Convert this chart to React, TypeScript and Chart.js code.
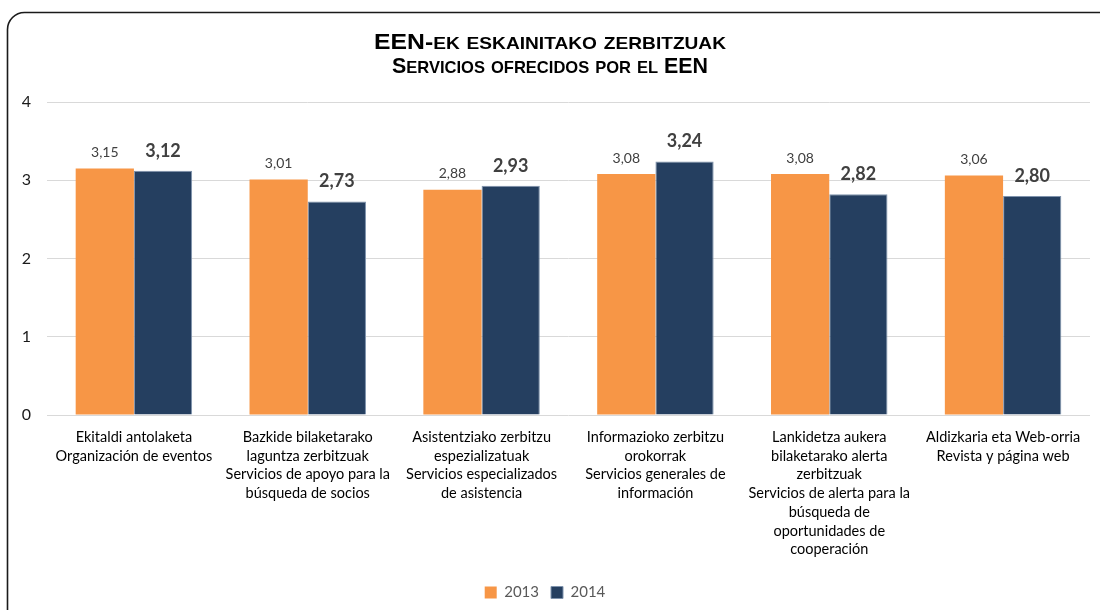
import React, { useEffect, useRef } from "react";
import { Chart, registerables } from "chart.js";

Chart.register(...registerables);

const TITLE_LINES = ["EEN-ek eskainitako zerbitzuak", "Servicios ofrecidos por el EEN"];

const CATEGORIES: string[][] = [
  ["Ekitaldi antolaketa", "Organización de eventos"],
  ["Bazkide bilaketarako", "laguntza zerbitzuak", "Servicios de apoyo para la", "búsqueda de socios"],
  ["Asistentziako zerbitzu", "espezializatuak", "Servicios especializados", "de asistencia"],
  ["Informazioko zerbitzu", "orokorrak", "Servicios generales de", "información"],
  [
    "Lankidetza aukera",
    "bilaketarako alerta",
    "zerbitzuak",
    "Servicios de alerta para la",
    "búsqueda de",
    "oportunidades de",
    "cooperación",
  ],
  ["Aldizkaria eta Web-orria", "Revista y página web"],
];

const SERIES_NAMES = ["2013", "2014"];
const VALUES_2013 = [3.15, 3.01, 2.88, 3.08, 3.08, 3.06];
const VALUES_2014 = [3.12, 2.73, 2.93, 3.24, 2.82, 2.8];
const Y_MIN = 0;
const Y_MAX = 4;
const Y_STEP = 1;

const FONT = 'Lato, "Open Sans", sans-serif';
const TITLE_FONT = '"Liberation Sans", Arial, sans-serif';

const titlePlugin = {
  id: "smallCapsTitle",
  afterDraw(chart: any) {
    const ctx = chart.ctx as CanvasRenderingContext2D;
    const targetWidths = [352, 316];
    const baselines = [49, 73];
    const bigFont = `bold 22px ${TITLE_FONT}`;
    const smallFont = `bold 17px ${TITLE_FONT}`;
    ctx.save();
    ctx.fillStyle = "#000000";
    ctx.textBaseline = "alphabetic";
    ctx.textAlign = "left";
    TITLE_LINES.forEach((line, li) => {
      const runs: { small: boolean; text: string }[] = [];
      for (const ch of line) {
        const isSmall = ch !== ch.toUpperCase();
        const t = isSmall ? ch.toUpperCase() : ch;
        const last = runs[runs.length - 1];
        if (last && last.small === isSmall) last.text += t;
        else runs.push({ small: isSmall, text: t });
      }
      let total = 0;
      const widths = runs.map((r) => {
        ctx.font = r.small ? smallFont : bigFont;
        const w = ctx.measureText(r.text).width;
        total += w;
        return w;
      });
      const sx = targetWidths[li] / total;
      ctx.save();
      ctx.translate(chart.width / 2 - targetWidths[li] / 2, baselines[li]);
      ctx.scale(sx, 1);
      let x = 0;
      runs.forEach((r, i) => {
        ctx.font = r.small ? smallFont : bigFont;
        ctx.fillText(r.text, x, 0);
        x += widths[i];
      });
      ctx.restore();
    });
    ctx.restore();
  },
};

const valueLabelPlugin = {
  id: "valueLabels",
  afterDatasetsDraw(chart: any) {
    const ctx = chart.ctx as CanvasRenderingContext2D;
    ctx.save();
    ctx.textAlign = "center";
    ctx.textBaseline = "middle";
    ctx.fillStyle = "#404040";
    chart.data.datasets.forEach((ds: any, di: number) => {
      const meta = chart.getDatasetMeta(di);
      meta.data.forEach((bar: any, i: number) => {
        const v = ds.data[i] as number;
        const text = v.toFixed(2).replace(".", ",");
        ctx.font = di === 0 ? `14px ${FONT}` : `bold 18px ${FONT}`;
        ctx.fillText(text, bar.x, bar.y - (di === 0 ? 16 : 20));
      });
    });
    ctx.restore();
  },
};

const framePlugin = {
  id: "frame",
  afterDraw(chart: any) {
    const ctx = chart.ctx as CanvasRenderingContext2D;
    ctx.save();
    ctx.strokeStyle = "#1a1a1a";
    ctx.lineWidth = 1.6;
    ctx.beginPath();
    (ctx as any).roundRect(7.5, 12.5, 1110, 640, 17);
    ctx.stroke();
    ctx.restore();
  },
};

export default function App() {
  const ref = useRef<HTMLCanvasElement | null>(null);

  useEffect(() => {
    if (!ref.current) return;
    const chart = new Chart(ref.current, {
      type: "bar",
      data: {
        labels: CATEGORIES,
        datasets: [
          {
            label: SERIES_NAMES[0],
            data: VALUES_2013,
            backgroundColor: "#F79646",
            borderWidth: 0,
            categoryPercentage: 0.67,
            barPercentage: 1,
          },
          {
            label: SERIES_NAMES[1],
            data: VALUES_2014,
            backgroundColor: "#253F60",
            borderColor: "#7F93AD",
            borderWidth: 1,
            categoryPercentage: 0.67,
            barPercentage: 1,
          },
        ],
      },
      options: {
        responsive: false,
        animation: false,
        layout: { padding: { top: 102, right: 10, bottom: 0, left: 0 } },
        plugins: {
          title: { display: false },
          tooltip: { enabled: false },
          legend: {
            position: "bottom",
            labels: {
              boxWidth: 12,
              boxHeight: 12,
              padding: 12,
              color: "#595959",
              font: { family: FONT, size: 15 },
            },
          },
        },
        scales: {
          x: {
            grid: { display: false, drawTicks: false },
            border: { display: false },
            ticks: {
              color: "#000000",
              autoSkip: false,
              maxRotation: 0,
              minRotation: 0,
              padding: 13,
              font: { family: FONT, size: 14.5, lineHeight: 1.29 },
            },
            afterFit(scale: any) {
              scale.height = 158;
            },
          },
          y: {
            min: Y_MIN,
            max: Y_MAX,
            ticks: {
              stepSize: Y_STEP,
              color: "#1a1a1a",
              padding: 16,
              font: { family: FONT, size: 16 },
            },
            grid: { color: "#D9D9D9", lineWidth: 1, drawTicks: false },
            border: { display: false },
            afterFit(scale: any) {
              scale.width = 47;
            },
          },
        },
      },
      plugins: [titlePlugin, valueLabelPlugin, framePlugin],
    });
    return () => chart.destroy();
  }, []);

  return (
    <div style={{ position: "absolute", left: 0, top: 0, width: 1100, height: 610, background: "#fff" }}>
      <canvas ref={ref} width={1100} height={610} style={{ display: "block" }} />
    </div>
  );
}
